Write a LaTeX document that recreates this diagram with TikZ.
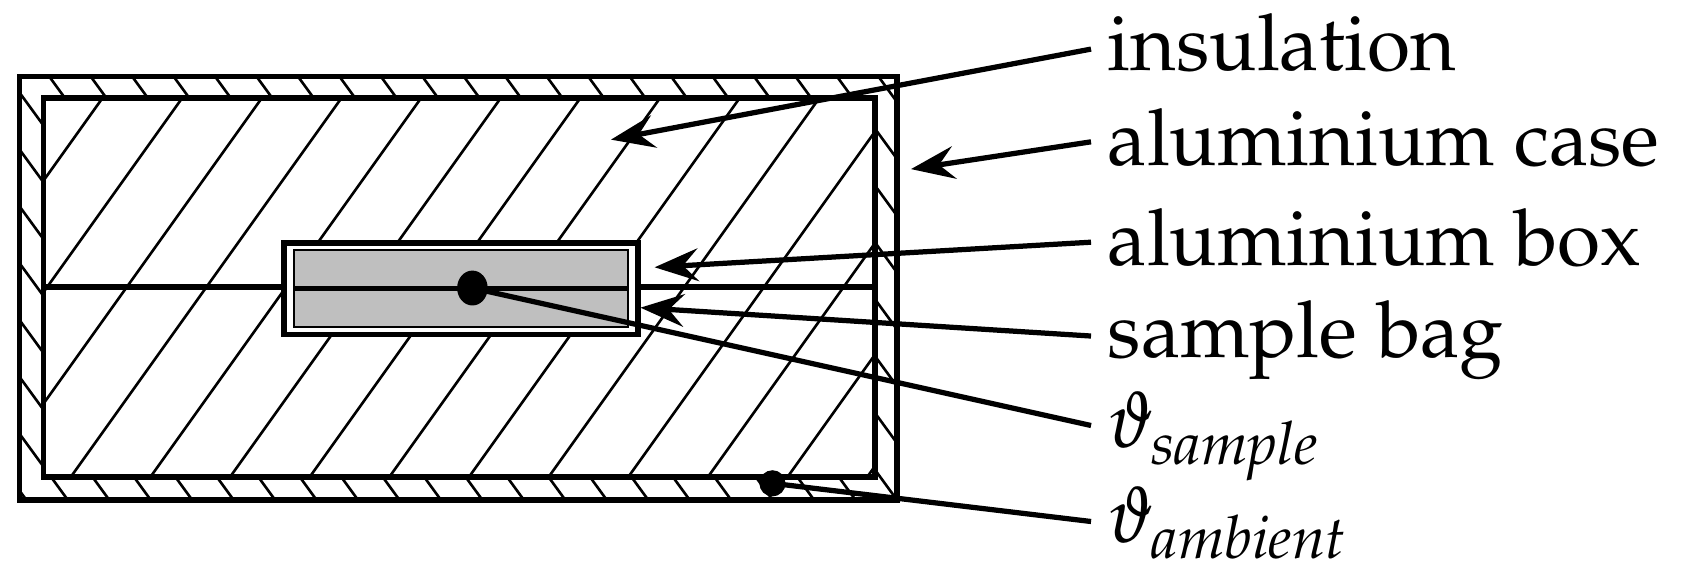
\documentclass[tikz,border=0pt]{standalone}
\usepackage[T1]{fontenc}
\usepackage{mathpazo}
\usetikzlibrary{arrows.meta}
\begin{document}
\begin{tikzpicture}[x=0.5pt,y=-0.5pt,
  lab/.style={anchor=base west,inner sep=0pt,font=\fontsize{36}{40}\selectfont},
  ptr/.style={line width=2.4pt,-{Stealth[length=20pt,width=15pt,inset=7pt]}},
  lead/.style={line width=2.4pt},
  hatch/.style={line width=1.2pt},
  thick box/.style={line width=2.6pt}]
\useasboundingbox (0,0) rectangle (1560,534);
% case band hatching
\begin{scope}[even odd rule]
  \clip (18,70) rectangle (822,458) (40,90) rectangle (802,437);
  \foreach \i in {-500,-462,...,1300} \draw[hatch] (\i,0) -- ++(350,480);
\end{scope}
% insulation hatching
\begin{scope}
  \clip (40,90) rectangle (802,437);
  \foreach \i in {-300,-227,...,1000} \draw[hatch] (\i,437) -- ++(250,-350);
\end{scope}
\draw[thick box] (18,70) rectangle (822,458);
\draw[thick box] (40,90) rectangle (802,437);
\draw[thick box] (40,263) -- (802,263);
% sample box
\node[draw,line width=2.6pt,fill=white,minimum width=162pt,minimum height=42pt,inner sep=0pt] (box) at (422.5,264.5) {};
\node[draw,line width=0.9pt,fill=black!25,minimum width=153pt,minimum height=35pt,inner sep=0pt] (bag) at (422.5,264.5) {};
\draw[thick box] (bag.west) -- (bag.east);
\fill (433,264) circle[x radius=7pt,y radius=8pt];
\coordinate (ts) at (433,264);
\fill (708,443) circle[radius=6pt];
\coordinate (ta) at (708,443);
% labels
\node[lab] (l1) at (1015,65) {insulation};
\node[lab] (l2) at (1015,152) {aluminium case};
\node[lab] (l3) at (1015,243) {aluminium box};
\node[lab] (l4) at (1015,328) {sample bag};
\node[lab] (l5) at (1015,410) {$\vartheta_{\mathit{sample}}$};
\node[lab] (l6) at (1015,497) {$\vartheta_{\mathit{ambient}}$};
\coordinate (s1) at (1000,45);
\coordinate (s2) at (1000,130);
\coordinate (s3) at (1000,222);
\coordinate (s4) at (1000,308);
\coordinate (s5) at (1000,390);
\coordinate (s6) at (1000,478);
\draw[ptr] (s1) -- (560,128);
\draw[ptr] (s2) -- (835,155);
\draw[ptr] (s3) -- (600,245);
\draw[ptr] (s4) -- (587,282);
\draw[lead] (s5) -- (ts);
\draw[lead] (s6) -- (ta);
\end{tikzpicture}
\end{document}
